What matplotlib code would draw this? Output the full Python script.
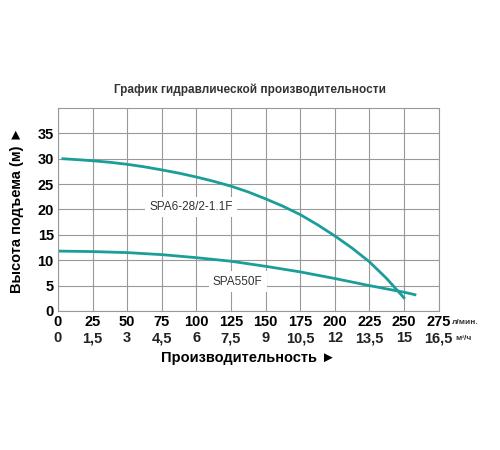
import matplotlib
matplotlib.use("Agg")
import matplotlib.pyplot as plt

plt.rcParams['font.family'] = ['Liberation Sans', 'DejaVu Sans']

flow_a = [3.5, 15, 25, 37.5, 50, 62.5, 75, 87.5, 100, 112.5, 125, 137.5, 150, 162.5, 175, 187.5, 200, 212.5, 225, 237.5, 250]
head_a = [30, 29.8, 29.6, 29.3, 28.9, 28.4, 27.8, 27.15, 26.4, 25.55, 24.6, 23.45, 22.1, 20.65, 19.0, 17.0, 14.8, 12.4, 9.7, 6.4, 2.6]
flow_b = [0, 25, 50, 75, 100, 125, 150, 175, 200, 225, 250, 258]
head_b = [11.8, 11.7, 11.5, 11.1, 10.5, 9.8, 8.8, 7.7, 6.4, 5.0, 3.7, 3.2]
x_ticks = [0, 25, 50, 75, 100, 125, 150, 175, 200, 225, 250, 275]
m3_labels = ["0", "1,5", "3", "4,5", "6", "7,5", "9", "10,5", "12", "13,5", "15", "16,5"]
y_ticks = [0, 5, 10, 15, 20, 25, 30, 35]

col = "#1a9e9a"
fig = plt.figure(figsize=(5, 4.5), dpi=100)
ax = fig.add_axes([0.116, 0.309, 0.761, 0.451])
ax.set_xlim(0, 275)
ax.set_ylim(0, 40)
ax.set_xticks(x_ticks)
ax.set_yticks(y_ticks)
ax.set_xticklabels([str(v) for v in x_ticks], fontsize=10.5, fontweight='bold')
ax.set_yticklabels([str(v) for v in y_ticks], fontsize=10.5, fontweight='bold')
ax.grid(True, color="#999999", lw=0.8)
for s in ax.spines.values():
    s.set_color("#999999"); s.set_linewidth(0.8)
ax.tick_params(length=0, pad=3)
ax.plot(flow_a, head_a, color=col, lw=2)
ax.plot(flow_b, head_b, color=col, lw=2)
ax.text(96, 20.5, "SPA6-28/2-1.1F", fontsize=8.5, color="#333333", ha='center', va='center',
        bbox=dict(fc='white', ec='none', pad=3))
ax.text(130, 5.8, "SPA550F", fontsize=8.5, color="#333333", ha='center', va='center',
        bbox=dict(fc='white', ec='none', pad=3))
ax.text(285, -2.2, "л/мин.", fontsize=6, fontweight='bold', color="#333333", va='center', clip_on=False)
for v, lab in zip(x_ticks, m3_labels):
    ax.text(v, -5.4, lab, fontsize=10.5, fontweight='bold', ha='center', va='center', clip_on=False, color="#222222")
ax.text(287, -5.4, "м³/ч", fontsize=6, fontweight='bold', color="#333333", va='center', clip_on=False)
ax.set_ylabel("Высота подъема (м) ►", fontsize=10.5, fontweight='bold', labelpad=10)
ax.text(0.5, -0.23, "Производительность ►", transform=ax.transAxes, fontsize=10.5,
        fontweight='bold', ha='center', va='center')
fig.text(0.5, 0.8, "График гидравлической производительности", fontsize=8.5,
         fontweight='bold', ha='center', va='center', color="#333333")
fig.savefig("out.png")
